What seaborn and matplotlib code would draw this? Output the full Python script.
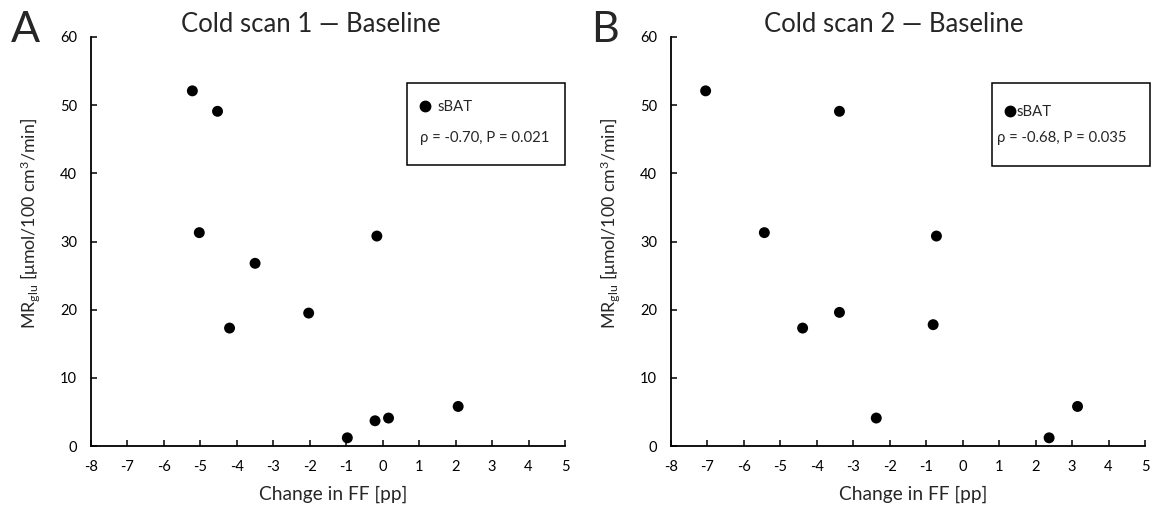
import matplotlib
matplotlib.use("Agg")
import matplotlib.pyplot as plt
import matplotlib.patches as mpatches
from matplotlib.lines import Line2D
import numpy as np
import pandas as pd
import seaborn as sns

# values
scan1_ff = [-5.22, -4.53, -5.03, -3.50, -4.20, -2.03, -0.16, -0.97, -0.21, 0.16, 2.07]
scan1_mr = [52.1, 49.1, 31.3, 26.8, 17.3, 19.5, 30.8, 1.2, 3.7, 4.1, 5.8]
scan2_ff = [-7.05, -3.38, -5.44, -0.72, -4.39, -3.38, -0.81, -2.37, 2.37, 3.15]
scan2_mr = [52.1, 49.1, 31.3, 30.8, 17.3, 19.6, 17.8, 4.1, 1.2, 5.8]

titles = ["Cold scan 1 \u2014 Baseline", "Cold scan 2 \u2014 Baseline"]
letters = ["A", "B"]
stats = ["\u03c1 = -0.70, P = 0.021", "\u03c1 = -0.68, P = 0.035"]
x_ticks = list(range(-8, 6))
y_ticks = list(range(0, 61, 10))

sns.set_style("ticks")
plt.rcParams["font.family"] = ["Lato", "DejaVu Sans"]
plt.rcParams["mathtext.fontset"] = "custom"
plt.rcParams["mathtext.rm"] = "Lato"
plt.rcParams["mathtext.it"] = "Lato:italic"
plt.rcParams["axes.unicode_minus"] = False

fig = plt.figure(figsize=(11.6, 5.08), dpi=100)
W, H = 1160, 508

panels = [
    dict(ff=scan1_ff, mr=scan1_mr, left=91, title_x=0.464,
         box=(0.667, 0.687, 0.332, 0.200), mark=(0.704, 0.829), stat=(0.694, 0.753), pad=0.43),
    dict(ff=scan2_ff, mr=scan2_mr, left=671, title_x=0.469,
         box=(0.677, 0.685, 0.333, 0.202), mark=(0.715, 0.816), stat=(0.687, 0.752), pad=0.05),
]

for i, p in enumerate(panels):
    ax = fig.add_axes([p["left"] / W, 1 - 446 / H, 474 / W, 409 / H])
    df = pd.DataFrame({"ff": p["ff"], "mr": p["mr"]})
    sns.scatterplot(data=df, x="ff", y="mr", ax=ax, color="black", s=62,
                    edgecolor="none", legend=False, clip_on=False, zorder=3)
    ax.set_xlim(-8, 5)
    ax.set_ylim(0, 60)
    ax.set_xticks(x_ticks)
    ax.set_yticks(y_ticks)
    for s in ["top", "right"]:
        ax.spines[s].set_visible(False)
    for s in ["left", "bottom"]:
        ax.spines[s].set_linewidth(1.3)
        ax.spines[s].set_color("black")
    ax.tick_params(direction="in", length=4, width=1.1, labelsize=10.5, colors="black", pad=10)
    ax.set_xlabel("Change in FF [pp]", fontsize=13.8, labelpad=9)
    ax.xaxis.set_label_coords(0.51, -0.098)
    ax.set_ylabel("MR$_{\\mathrm{glu}}$ [\u03bcmol/100 cm$^{3}$/min]", fontsize=12.8)
    ax.yaxis.set_label_coords(-0.103, 0.543)
    ax.set_title(titles[i], fontsize=18.5, x=p["title_x"], pad=1)
    fig.text((p["left"] - 80) / W, 1 - 42 / H, letters[i], fontsize=31, ha="left", va="baseline")

    bx, by, bw, bh = p["box"]
    ax.add_patch(mpatches.Rectangle((bx, by), bw, bh, transform=ax.transAxes, fill=False,
                                    edgecolor="black", linewidth=1.1, clip_on=False))
    h = Line2D([], [], marker="o", color="black", linestyle="none", markersize=7.5)
    fs = 10.7
    hl = 0.8
    left_edge = p["mark"][0] - (hl * fs / 72 * 100 / 2) / 474
    ax.legend(handles=[h], labels=["sBAT"], loc="center left", frameon=False,
              bbox_to_anchor=(left_edge, p["mark"][1]), borderpad=0, borderaxespad=0,
              handlelength=hl, handletextpad=p["pad"], fontsize=fs)
    ax.text(p["stat"][0], p["stat"][1], stats[i], transform=ax.transAxes, fontsize=fs,
            ha="left", va="center")

fig.savefig("out.png", dpi=100)
